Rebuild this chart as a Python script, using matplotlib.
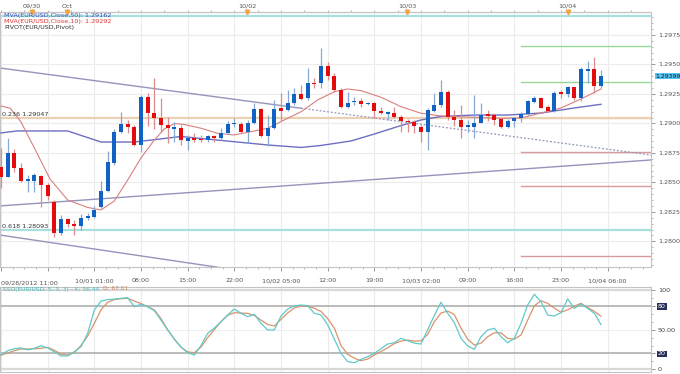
import matplotlib
matplotlib.use("Agg")
import matplotlib.pyplot as plt
import matplotlib.transforms as mtrans
from matplotlib.ticker import FixedLocator, MultipleLocator

# ---------------- data ----------------
opens = [1.28630, 1.28548, 1.28747, 1.28619, 1.28512, 1.28512, 1.28557, 1.28478, 1.28336, 1.28068,
         1.28187, 1.28144, 1.28132, 1.28200, 1.28209, 1.28294, 1.28427, 1.28662, 1.28930, 1.28993,
         1.28972, 1.28817, 1.29227, 1.29086, 1.29049, 1.28987, 1.28955, 1.28965, 1.28853, 1.28874,
         1.28868, 1.28859, 1.28893, 1.28874, 1.28916, 1.28995, 1.28993, 1.28930, 1.29001, 1.29120,
         1.28893, 1.28959, 1.29128, 1.29114, 1.29171, 1.29250, 1.29213, 1.29345, 1.29345, 1.29490,
         1.29405, 1.29284, 1.29142, 1.29178, 1.29194, 1.29162, 1.29176, 1.29105, 1.29082, 1.29091,
         1.29057, 1.29021, 1.29015, 1.28972, 1.28923, 1.29108, 1.29156, 1.29264, 1.29052, 1.29029,
         1.28970, 1.28972, 1.29006, 1.29077, 1.29071, 1.29035, 1.28967, 1.29023, 1.29043, 1.29080,
         1.29184, 1.29218, 1.29137, 1.29108, 1.29261, 1.29247, 1.29306, 1.29213, 1.29451, 1.29459,
         1.29317]
highs = [1.28792, 1.28876, 1.28780, 1.28662, 1.28562, 1.28577, 1.28562, 1.28492, 1.28350, 1.28223,
         1.28200, 1.28181, 1.28229, 1.28240, 1.28302, 1.28512, 1.28766, 1.28953, 1.29099, 1.29029,
         1.28987, 1.29241, 1.29256, 1.29383, 1.29213, 1.29057, 1.29012, 1.28987, 1.28902, 1.28919,
         1.28902, 1.28902, 1.28902, 1.28959, 1.29023, 1.29049, 1.29012, 1.29029, 1.29171, 1.29131,
         1.29071, 1.29199, 1.29258, 1.29284, 1.29298, 1.29326, 1.29468, 1.29388, 1.29640, 1.29524,
         1.29425, 1.29298, 1.29264, 1.29227, 1.29213, 1.29184, 1.29184, 1.29139, 1.29105, 1.29139,
         1.29071, 1.29035, 1.29029, 1.28987, 1.29128, 1.29258, 1.29364, 1.29284, 1.29114, 1.29156,
         1.29025, 1.29241, 1.29171, 1.29114, 1.29091, 1.29043, 1.29035, 1.29057, 1.29099, 1.29199,
         1.29233, 1.29227, 1.29156, 1.29278, 1.29284, 1.29317, 1.29312, 1.29481, 1.29532, 1.29561,
         1.29453]
lows = [1.28452, 1.28545, 1.28590, 1.28506, 1.28421, 1.28421, 1.28294, 1.28350, 1.28037, 1.28053,
        1.28124, 1.28053, 1.28096, 1.28181, 1.28195, 1.28280, 1.28421, 1.28647, 1.28916, 1.28916,
        1.28808, 1.28760, 1.28978, 1.28953, 1.28930, 1.28831, 1.28845, 1.28817, 1.28772, 1.28845,
        1.28845, 1.28845, 1.28845, 1.28859, 1.28910, 1.28972, 1.28919, 1.28831, 1.28995, 1.28885,
        1.28808, 1.28955, 1.29021, 1.29105, 1.29156, 1.29199, 1.29199, 1.29298, 1.29298, 1.29368,
        1.29269, 1.29128, 1.29128, 1.29156, 1.29137, 1.29156, 1.29043, 1.29077, 1.29029, 1.29043,
        1.28930, 1.28930, 1.28916, 1.28845, 1.28775, 1.29099, 1.29142, 1.29029, 1.28978, 1.28874,
        1.28930, 1.28874, 1.29001, 1.29023, 1.28987, 1.28959, 1.28959, 1.28972, 1.29015, 1.29071,
        1.29176, 1.29128, 1.29099, 1.29099, 1.29213, 1.29227, 1.29199, 1.29193, 1.29340, 1.29256,
        1.29298]
closes = [1.28545, 1.28747, 1.28619, 1.28512, 1.28529, 1.28562, 1.28478, 1.28384, 1.28068, 1.28189,
          1.28144, 1.28132, 1.28200, 1.28215, 1.28266, 1.28427, 1.28670, 1.28930, 1.28993, 1.28972,
          1.28817, 1.29227, 1.29086, 1.29046, 1.28987, 1.28959, 1.28967, 1.28857, 1.28879, 1.28859,
          1.28857, 1.28893, 1.28874, 1.28921, 1.28993, 1.29006, 1.28930, 1.29001, 1.29120, 1.28893,
          1.28961, 1.29120, 1.29108, 1.29171, 1.29250, 1.29210, 1.29345, 1.29332, 1.29490, 1.29405,
          1.29284, 1.29142, 1.29176, 1.29194, 1.29162, 1.29176, 1.29105, 1.29086, 1.29094, 1.29057,
          1.29021, 1.29010, 1.28978, 1.28923, 1.29114, 1.29159, 1.29264, 1.29054, 1.29026, 1.28972,
          1.28981, 1.29006, 1.29071, 1.29063, 1.29029, 1.28967, 1.29023, 1.29043, 1.29080, 1.29190,
          1.29218, 1.29133, 1.29108, 1.29261, 1.29250, 1.29306, 1.29213, 1.29459, 1.29459, 1.29317,
          1.29399]

# moving averages (read at sample candle positions)
ma50_idx = [0, 2.4, 10, 15, 20, 27, 32.4, 40, 45, 48, 52.5, 56, 60, 63, 66, 71, 76, 81, 86, 90]
ma50_val = [1.28919, 1.28936, 1.28936, 1.28842, 1.28842, 1.28889, 1.28859, 1.28817, 1.28796, 1.28813,
            1.28851, 1.28910, 1.28982, 1.29029, 1.29059, 1.29071, 1.29071, 1.29088, 1.29131, 1.29162]
ma10_idx = [0, 1.4, 3, 5, 7.35, 10, 13, 15, 17, 19, 21, 23, 24.5, 26, 27.5, 30, 32.5, 35, 37.5, 40,
            42.5, 45, 47.5, 50, 52, 54, 57, 60, 63, 66, 71, 75, 78, 81, 84, 87, 90]
ma10_val = [1.29148, 1.29128, 1.29012, 1.28792, 1.28529, 1.28350, 1.28287, 1.28266, 1.28342, 1.28520,
            1.28707, 1.28859, 1.28953, 1.28999, 1.28991, 1.28959, 1.28916, 1.28902, 1.28930, 1.28959,
            1.29029, 1.29099, 1.29199, 1.29269, 1.29292, 1.29278, 1.29222, 1.29142, 1.29086, 1.29063,
            1.29052, 1.29043, 1.29046, 1.29088, 1.29131, 1.29207, 1.29292]

# trend lines (start/end index, price)
trend_upper = [(-0.15, 1.29470), (97.5, 1.28732)]
trend_upper_solid_end = 45
trend_lower = [(-0.15, 1.28300), (97.5, 1.28690)]
trend_bottom = [(-0.15, 1.28053), (33.2, 1.27774)]

fib_levels = [1.29911, 1.29047, 1.28093]
fib_labels = ["", "0.236 1.29047", "0.618 1.28093"]
pivot_levels = [1.29659, 1.29354, 1.29046, 1.28760, 1.28472, 1.27875]
pivot_start = 78

stoch_k = [18, 23.5, 26, 27, 24.5, 26.5, 29.8, 27, 22, 16.8,
           16.8, 22.2, 28.5, 45.4, 74.8, 86.1, 88, 88.5, 89.5, 90.3,
           78.9, 82, 78.9, 74, 62, 49.6, 38, 28, 20.9, 18,
           30, 45.4, 52, 60, 68.5, 76, 70.6, 66.3, 69.4, 58,
           49.6, 49.6, 67.2, 76, 80, 81.1, 80.2, 70.6, 68.5, 56,
           38, 20.2, 9.6, 8.3, 12.6, 16, 20, 26, 31.9, 33.5,
           39.1, 36.1, 33, 31.9, 50, 68, 84.5, 70.6, 58.8, 39.1,
           29.4, 25.2, 41.1, 49.6, 51.7, 41.1, 33.5, 39.1, 58, 81.1,
           94.6, 85.2, 68.5, 67.2, 71.4, 88.7, 76.9, 82.3, 76.9, 70.6,
           56.44]
stoch_d = [18, 20.5, 23.5, 25.6, 25.6, 26, 26.5, 27.7, 24, 19,
           18, 21, 30, 42, 58, 75, 84.5, 88, 89, 89.5,
           86, 83, 79, 75, 64, 50, 38, 28, 22, 21,
           28, 40, 50, 60, 68, 71.4, 71, 70.5, 68, 62,
           56.5, 54.6, 63, 71, 77.5, 79.8, 79.5, 77, 73, 64,
           52, 30, 19, 14, 10.8, 13, 18, 22.5, 27, 32.5,
           35.5, 36.9, 35.5, 36, 44, 60, 71, 73.5, 69, 52,
           38, 30.6, 33, 41, 46, 46, 39, 38, 43.3, 62,
           80, 86.5, 83.2, 77, 72, 75, 79.5, 83.2, 78, 73,
           67.01]

price_ticks = [1.2800, 1.2825, 1.2850, 1.2875, 1.2900, 1.2925, 1.2950, 1.2975]
grid_idx = list(range(0, 98, 7))
mid_labels = ["", "", "10/01 01:00", "08:00", "15:00", "22:00", "10/02 05:00", "12:00",
              "19:00", "10/03 02:00", "09:00", "16:00", "23:00", "10/04 06:00"]
first_label = "09/28/2012 11:00"
date_pos = [4.65, 9.9, 36.9, 60.9, 85.0]
date_labels = ["09/30", "Oct", "10/02", "10/03", "10/04"]

# ---------------- drawing ----------------
W, H = 680, 374
FS = 4.6
fig = plt.figure(figsize=(6.8, 3.74), dpi=100)
fig.patch.set_facecolor("white")
ax = fig.add_axes([0, 1 - 267 / H, 651 / W, 255 / H])
ax2 = fig.add_axes([0, 1 - 372 / H, 651 / W, 85 / H])

XMIN, XMAX = -0.15, 97.5
ax.set_xlim(XMIN, XMAX)
ax.set_ylim(1.27782, 1.29945)
ax2.set_xlim(XMIN, XMAX)
ax2.set_ylim(-3.4, 103.8)

grid_c = "#ececec"
for g in grid_idx:
    ax.axvline(g, color=grid_c, lw=0.8, zorder=0)
    ax2.axvline(g, color=grid_c, lw=0.8, zorder=0)
for p in price_ticks:
    ax.axhline(p, color=grid_c, lw=0.8, zorder=0)

# fib lines
fib_cols = ["#a8e0e0", "#ecd0b4", "#a8e0e0"]
for lv, lab, col in zip(fib_levels, fib_labels, fib_cols):
    ax.axhline(lv, color=col, lw=1.6, zorder=1)
    if lab:
        ax.text(0.1, lv + 0.00008, lab, fontsize=FS, color="#333333", va="bottom", ha="left", zorder=6)

# pivot lines
piv_cols = ["#96da96", "#96da96", "#ecd0b4", "#d89a9a", "#d89a9a", "#d89a9a"]
for lv, col in zip(pivot_levels, piv_cols):
    ax.plot([pivot_start, XMAX], [lv, lv], color=col, lw=1.0, zorder=1)

# trend lines
tl_col = "#9494bc"
(x0, y0), (x1, y1) = trend_upper
ym = y0 + (y1 - y0) * (trend_upper_solid_end - x0) / (x1 - x0)
ax.plot([x0, trend_upper_solid_end], [y0, ym], color=tl_col, lw=1.0, zorder=2)
ax.plot([trend_upper_solid_end, x1], [ym, y1], color=tl_col, lw=0.9, ls=(0, (1.5, 1.5)), zorder=2)
ax.plot([p[0] for p in trend_lower], [p[1] for p in trend_lower], color=tl_col, lw=1.0, zorder=2)
ax.plot([p[0] for p in trend_bottom], [p[1] for p in trend_bottom], color=tl_col, lw=1.0, zorder=2)

# moving averages
ax.plot(ma50_idx, ma50_val, color="#6e6ec4", lw=1.0, zorder=3)
ax.plot(ma10_idx, ma10_val, color="#d88080", lw=0.8, zorder=3)

# candles
minh = 0.00014
for i, (o, h, l, c) in enumerate(zip(opens, highs, lows, closes)):
    up = c >= o
    body = "#1262c4" if up else "#e30b0b"
    wick = "#86aad2" if up else "#dc8c8c"
    ax.vlines(i, l, h, color=wick, lw=0.9, zorder=4)
    hgt = abs(c - o)
    bot = min(o, c)
    if hgt < minh:
        bot = (o + c) / 2 - minh / 2
        hgt = minh
    ax.bar(i, hgt, bottom=bot, width=0.62, color=body, linewidth=0, zorder=5)

# main axes styling
for s in ax.spines.values():
    s.set_color("#c4c4c4")
    s.set_linewidth(0.8)
ax.yaxis.tick_right()
ax.yaxis.set_major_locator(FixedLocator(price_ticks))
ax.set_yticklabels(["%.4f" % p for p in price_ticks])
ax.yaxis.set_minor_locator(MultipleLocator(0.0005))
ax.tick_params(axis="y", which="major", length=3, width=0.6, color="#888888",
               labelsize=FS, labelcolor="#555555", pad=2)
ax.tick_params(axis="y", which="minor", length=1.5, width=0.5, color="#999999")

ax.xaxis.set_major_locator(FixedLocator(grid_idx))
ax.set_xticklabels(mid_labels)
ax.xaxis.set_minor_locator(MultipleLocator(1.75))
ax.tick_params(axis="x", which="major", length=3, width=0.6, color="#888888",
               labelsize=FS, labelcolor="#555555", pad=5)
ax.tick_params(axis="x", which="minor", length=1.5, width=0.5, color="#999999")
fig.text(1 / W, 1 - 283 / H, first_label, fontsize=FS, color="#555555", ha="left", va="center")

# top date axis
axt = ax.secondary_xaxis("top")
axt.xaxis.set_major_locator(FixedLocator(date_pos))
axt.set_xticklabels(date_labels)
axt.xaxis.set_minor_locator(MultipleLocator(3.5))
axt.tick_params(axis="x", which="major", length=2, width=0.6, color="#888888",
                labelsize=FS, labelcolor="#555555", pad=0.5)
axt.tick_params(axis="x", which="minor", length=1.5, width=0.5, color="#999999")
axt.spines["top"].set_color("#c4c4c4")
ax.plot(date_pos, [ax.get_ylim()[1]] * len(date_pos), "v", color="#f3a43a", ms=3.2,
        clip_on=False, zorder=8)

# last price marker
tr = mtrans.blended_transform_factory(ax.transAxes, ax.transData)
ax.text(1.007, closes[-1], "%.5f" % closes[-1], transform=tr, fontsize=4.4, color="#1a1a1a",
        va="center", ha="left",
        bbox=dict(boxstyle="square,pad=0.1", facecolor="#55c4f2", edgecolor="none"), zorder=9)

# legend texts
fig.text(4 / W, 1 - 16 / H, "MVA(EUR/USD,Close,50): 1.29162", fontsize=FS, color="#3c4cb4", va="center")
fig.text(4 / W, 1 - 22 / H, "MVA(EUR/USD,Close,10): 1.29292", fontsize=FS, color="#e03030", va="center")
fig.text(4 / W, 1 - 28 / H, "PIVOT(EUR/USD,Pivot)", fontsize=FS, color="#333333", va="center")

# ---------------- stochastic panel ----------------
idx = list(range(len(stoch_k)))
for lv, col, lw in [(100, "#d8d8d8", 1.6), (0, "#d8d8d8", 1.6), (80, "#a8a8a8", 1.1),
                    (20, "#a8a8a8", 1.1), (50, "#eeeeee", 0.8)]:
    ax2.axhline(lv, color=col, lw=lw, zorder=1)
ax2.plot(idx, stoch_d, color="#d9936c", lw=0.9, zorder=3)
ax2.plot(idx, stoch_k, color="#5fcaca", lw=0.9, zorder=4)
for s in ax2.spines.values():
    s.set_color("#c4c4c4")
    s.set_linewidth(0.8)
ax2.set_xticks([])
ax2.yaxis.tick_right()
ax2.set_yticks([0, 20, 50, 80, 100])
ax2.set_yticklabels(["0", "20", "50.00", "80", "100"])
ax2.tick_params(axis="y", length=3, width=0.6, color="#888888", labelsize=FS,
                labelcolor="#444444", pad=2)
ax2.yaxis.set_minor_locator(MultipleLocator(10))
ax2.tick_params(axis="y", which="minor", length=1.5, width=0.5, color="#999999")
for lab in ax2.get_yticklabels():
    if lab.get_text() in ("80", "20"):
        lab.set_color("white")
        lab.set_bbox(dict(boxstyle="square,pad=0.12", facecolor="#27305a", edgecolor="none"))

t1 = fig.text(3 / W, 1 - 289 / H, "SSO(EUR/USD, 5, 3, 3) - K: 56.44", fontsize=4.2,
              color="#4cbcbc", va="center")
fig.canvas.draw()
fig.text(0, 0, "D: 67.01", fontsize=4.2, color="#d07e56", va="center",
         transform=mtrans.offset_copy(fig.transFigure, fig=fig, x=0, y=0))
bb = t1.get_window_extent().transformed(fig.transFigure.inverted())
fig.texts[-1].set_position((bb.x1 + 4 / W, 1 - 289 / H))

fig.savefig("out.png", dpi=100, facecolor="white")
